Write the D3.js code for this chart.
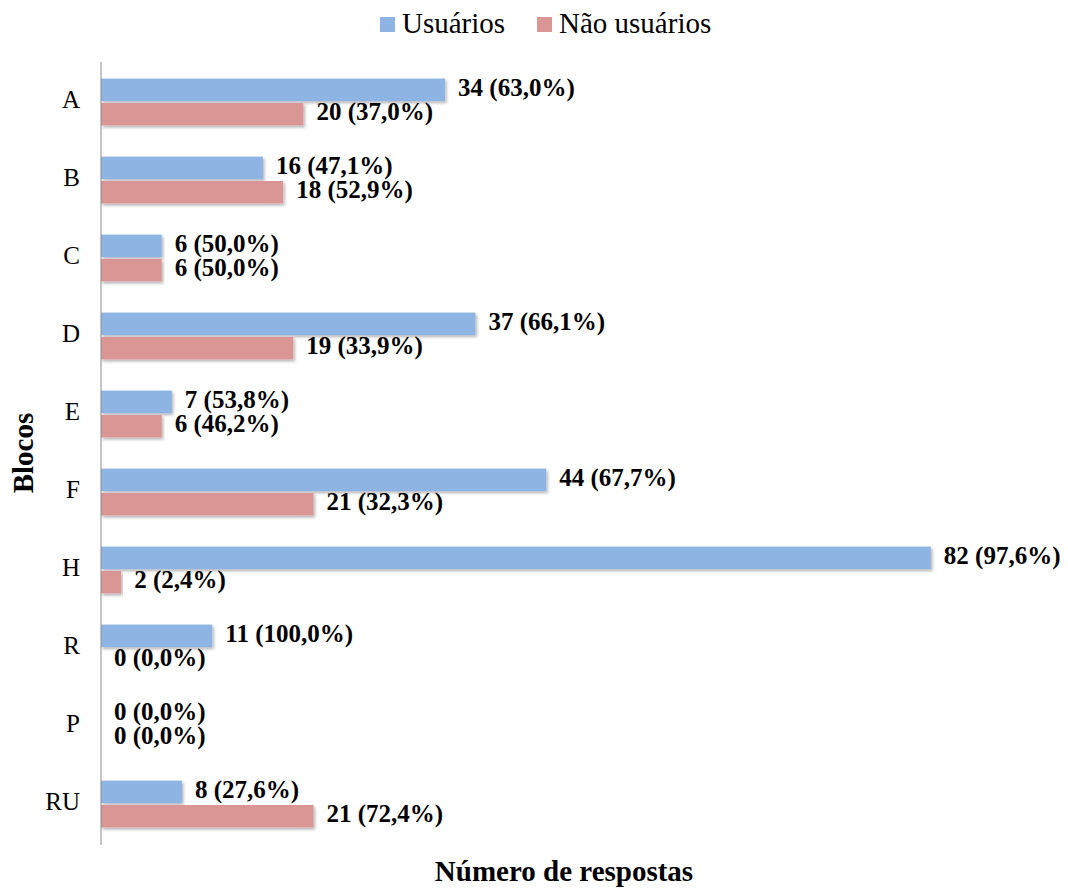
<!DOCTYPE html>
<html>
<head>
<meta charset="utf-8">
<script src="https://cdn.jsdelivr.net/npm/d3@7"></script>
<style>
  body { margin: 0; background: #fff; }
  svg text { font-family: "Liberation Serif", "Times New Roman", serif; fill: #000; }
</style>
</head>
<body>
<div id="chart"></div>
<script>
// data
var blocos = ["A", "B", "C", "D", "E", "F", "H", "R", "P", "RU"]
var usuarios = [34, 16, 6, 37, 7, 44, 82, 11, 0, 8]
var naoUsuarios = [20, 18, 6, 19, 6, 21, 2, 0, 0, 21]
var pctUsuarios = ["63,0%", "47,1%", "50,0%", "66,1%", "53,8%", "67,7%", "97,6%", "100,0%", "0,0%", "27,6%"]
var pctNao = ["37,0%", "52,9%", "50,0%", "33,9%", "46,2%", "32,3%", "2,4%", "0,0%", "0,0%", "72,4%"]
var series = ["Usuários", "Não usuários"]
var colors = ["#8eb4e3", "#d99694"]

var width = 1068, height = 891
var serif = "'Liberation Serif', 'Times New Roman', serif"

var svg = d3.select("#chart").append("svg")
    .attr("width", width)
    .attr("height", height)

// soft shadow like the excel bars
var defs = svg.append("defs")
defs.append("filter").attr("id", "shadow")
    .attr("x", "-5%").attr("y", "-20%").attr("width", "110%").attr("height", "160%")
  .append("feDropShadow")
    .attr("dx", 1.5).attr("dy", 2).attr("stdDeviation", 1.5)
    .attr("flood-color", "#000").attr("flood-opacity", 0.3)

var x = d3.scaleLinear().domain([0, 90]).range([101, 101 + 90 * 10.12])

var y = d3.scaleBand().domain(blocos).range([63, 843]).paddingInner(0.4).paddingOuter(0.2)

var sub = d3.scaleBand().domain(series).range([0, y.bandwidth()]).paddingInner(0.08)

var rows = blocos.map(function(b, i){
    return {bloco: b, vals: [
        {s: series[0], v: usuarios[i], p: pctUsuarios[i]},
        {s: series[1], v: naoUsuarios[i], p: pctNao[i]}
    ]}
})

var g = svg.selectAll(".row").data(rows).enter().append("g")
    .attr("class", "row")
    .attr("transform", function(d){ return "translate(0," + y(d.bloco) + ")" })

g.selectAll("rect").data(function(d){ return d.vals }).enter().append("rect")
    .attr("x", x(0))
    .attr("y", function(d){ return sub(d.s) })
    .attr("width", function(d){ return x(d.v) - x(0) })
    .attr("height", sub.bandwidth())
    .attr("fill", function(d, i){ return colors[i] })
    .attr("filter", "url(#shadow)")

g.selectAll(".lbl").data(function(d){ return d.vals }).enter().append("text")
    .attr("class", "lbl")
    .attr("x", function(d){ return x(d.v) + 13 })
    .attr("y", function(d){ return sub(d.s) + sub.bandwidth() / 2 })
    .attr("dominant-baseline", "middle")
    .style("font-family", serif)
    .style("font-size", "25px")
    .style("font-weight", "bold")
    .text(function(d){ return d.v + " (" + d.p + ")" })

// category axis
svg.append("line")
    .attr("x1", x(0)).attr("x2", x(0))
    .attr("y1", 62).attr("y2", 845)
    .attr("stroke", "#8c8c8c").attr("stroke-width", 1)

svg.selectAll(".cat").data(blocos).enter().append("text")
    .attr("class", "cat")
    .attr("x", 80)
    .attr("y", function(d){ return y(d) + y.bandwidth() / 2 })
    .attr("text-anchor", "end")
    .attr("dominant-baseline", "middle")
    .style("font-family", serif)
    .style("font-size", "25px")
    .text(function(d){ return d })

// axis titles
svg.append("text")
    .attr("transform", "translate(33,453) rotate(-90)")
    .attr("text-anchor", "middle")
    .style("font-family", serif)
    .style("font-size", "29px").style("font-weight", "bold")
    .text("Blocos")

svg.append("text")
    .attr("x", 564).attr("y", 881)
    .attr("text-anchor", "middle")
    .style("font-family", serif)
    .style("font-size", "29px").style("font-weight", "bold")
    .text("Número de respostas")

// legend
var legend = svg.append("g")
var lx = [380, 537]
series.forEach(function(s, i){
    legend.append("rect").attr("x", lx[i]).attr("y", 17).attr("width", 15).attr("height", 15).attr("fill", colors[i])
    legend.append("text").attr("x", lx[i] + 22).attr("y", 33)
        .style("font-family", serif)
        .style("font-size", "29px").text(s)
})
</script>
</body>
</html>
